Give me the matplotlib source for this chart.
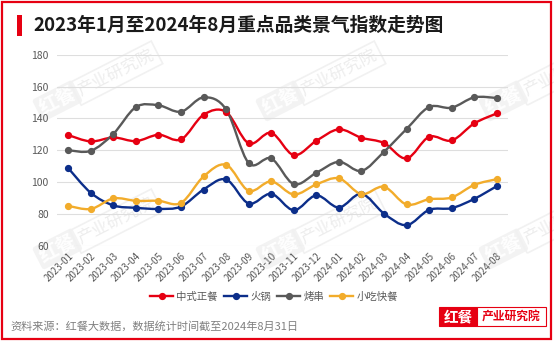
import matplotlib
matplotlib.use("Agg")
import matplotlib.pyplot as plt
from matplotlib.path import Path
from matplotlib.patches import PathPatch, Rectangle
from matplotlib.lines import Line2D
import numpy as np

plt.rcParams['font.family'] = ['Noto Sans CJK SC', 'DejaVu Sans']

# 月份
months = ['2023-01', '2023-02', '2023-03', '2023-04', '2023-05', '2023-06', '2023-07',
          '2023-08', '2023-09', '2023-10', '2023-11', '2023-12', '2024-01', '2024-02',
          '2024-03', '2024-04', '2024-05', '2024-06', '2024-07', '2024-08']

# 各品类景气指数
zhongshi = [129.5, 125.5, 128.0, 125.7, 129.7, 126.8, 142.3, 144.0, 124.3, 130.9,
            116.9, 125.9, 133.1, 127.8, 124.5, 114.8, 128.4, 126.1, 136.8, 143.1]
huoguo = [108.7, 93.2, 85.3, 83.8, 83.1, 84.6, 95.3, 101.6, 86.5, 92.6,
          82.3, 91.6, 84.0, 92.6, 80.2, 72.9, 82.5, 83.6, 89.4, 97.4]
kaochuan = [120.0, 119.6, 130.3, 147.1, 148.2, 144.2, 153.2, 145.6, 111.9, 114.8,
            98.7, 105.8, 112.7, 107.0, 119.0, 133.3, 147.1, 146.7, 153.2, 152.8]
xiaochi = [85.0, 83.1, 89.7, 88.2, 88.2, 86.9, 103.5, 110.8, 94.5, 100.4,
           92.2, 98.5, 102.3, 92.4, 97.0, 85.9, 89.2, 90.3, 98.2, 101.8]

series_names = ['中式正餐', '火锅', '烤串', '小吃快餐']
series_colors = ['#e60012', '#0c2e8a', '#595959', '#f2ac2b']
series_values = [zhongshi, huoguo, kaochuan, xiaochi]

W, H = 554, 342
fig = plt.figure(figsize=(W / 100, H / 100), dpi=100)
fig.patch.set_facecolor('white')


def fx(px):
    return px / W


def fy(py):
    return 1 - py / H


# 背景水印（放在坐标轴下层）
for wx in (77, 300, 523):
    for wy in (92, 240):
        fig.text(fx(wx) - 0.004, fy(wy), '红餐', rotation=27, rotation_mode='anchor',
                 ha='right', va='center', fontsize=14, fontweight='bold', color='white',
                 bbox=dict(boxstyle='round,pad=0.15', fc='#f3f3f3', ec='none'), zorder=-2)
        fig.text(fx(wx) + 0.004, fy(wy), '产业研究院', rotation=27, rotation_mode='anchor',
                 ha='left', va='center', fontsize=12, color='#ededed',
                 bbox=dict(boxstyle='square,pad=0.25', fc='none', ec='#f1f1f1', lw=1.2),
                 zorder=-2)

# 外框
fig.patches.append(Rectangle((fx(1.5), fy(339)), fx(551) - fx(1.5), fy(1.5) - fy(339),
                             transform=fig.transFigure, fill=False, ec='#e60012', lw=1.6))

# 标题
fig.patches.append(Rectangle((fx(17), fy(36)), fx(5), fy(15) - fy(36),
                             transform=fig.transFigure, fc='#e60012', ec='none'))
fig.text(fx(33), fy(25.5), '2023年1月至2024年8月重点品类景气指数走势图',
         ha='left', va='center', fontsize=13.5, fontweight='bold', color='#1a1a1a')

ax = fig.add_axes([fx(57), fy(245.7), fx(451), fy(54.7) - fy(245.7)])
ax.patch.set_alpha(0)
x = np.arange(len(months))


def smooth_path(xs, ys):
    # Catmull-Rom 转三次贝塞尔，得到平滑曲线
    pts = np.column_stack([xs, ys]).astype(float)
    ext = np.vstack([pts[0], pts, pts[-1]])
    verts = [pts[0]]
    codes = [Path.MOVETO]
    for i in range(len(pts) - 1):
        p0, p1, p2, p3 = ext[i], ext[i + 1], ext[i + 2], ext[i + 3]
        c1 = p1 + (p2 - p0) / 6
        c2 = p2 - (p3 - p1) / 6
        verts += [c1, c2, p2]
        codes += [Path.CURVE4] * 3
    return Path(verts, codes)


handles = []
for name, color, vals in zip(series_names, series_colors, series_values):
    ax.add_patch(PathPatch(smooth_path(x, vals), fill=False, ec=color, lw=1.7,
                           capstyle='round', zorder=3))
    ax.plot(x, vals, 'o', color=color, ms=4.2, zorder=4)
    handles.append(Line2D([], [], color=color, lw=1.7, marker='o', ms=4.2))

ax.set_xlim(-0.5, len(months) - 0.5)
ax.set_ylim(60, 180)
ax.set_yticks(range(60, 181, 20))
ax.grid(axis='y', color='#dedede', lw=0.8)
ax.set_axisbelow(True)
for s in ax.spines.values():
    s.set_visible(False)
ax.tick_params(axis='both', length=0, colors='#595959')
ax.tick_params(axis='y', labelsize=7.5, pad=6)
ax.set_xticks(x)
ax.set_xticklabels(months, rotation=45, ha='right', rotation_mode='anchor', fontsize=7)
ax.tick_params(axis='x', pad=4)

fig.legend(handles, series_names, loc='center', bbox_to_anchor=(fx(274), fy(297)),
           ncol=4, frameon=False, fontsize=7.5, handlelength=2.2, handletextpad=0.3,
           columnspacing=0.6, labelcolor='#595959')

# 数据来源
fig.text(fx(10), fy(326), '资料来源：红餐大数据，数据统计时间截至2024年8月31日',
         ha='left', va='center', fontsize=8, color='#808080')

# 右下角标识
fig.patches.append(Rectangle((fx(439), fy(326)), fx(38), fy(307) - fy(326),
                             transform=fig.transFigure, fc='#e60012', ec='#e60012', lw=0.8))
fig.patches.append(Rectangle((fx(477), fy(326)), fx(69), fy(307) - fy(326),
                             transform=fig.transFigure, fc='white', ec='#e60012', lw=0.8))
fig.text(fx(458), fy(316.5), '红餐', ha='center', va='center', fontsize=10.5,
         fontweight='bold', color='white')
fig.text(fx(511.5), fy(316.5), '产业研究院', ha='center', va='center', fontsize=8.5,
         fontweight='bold', color='#e60012')

fig.savefig('out.png', dpi=100)
